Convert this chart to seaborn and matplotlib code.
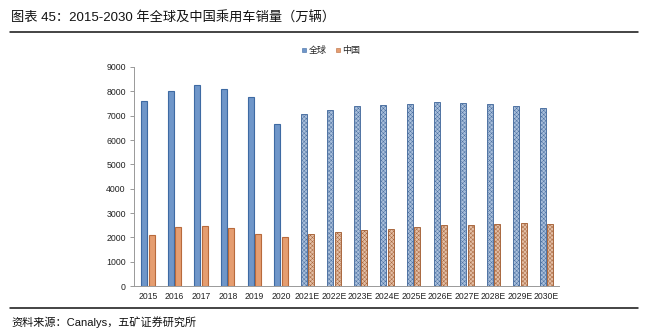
import matplotlib
matplotlib.use("Agg")
import matplotlib.pyplot as plt
import seaborn as sns
import pandas as pd
from matplotlib.lines import Line2D

years = ["2015", "2016", "2017", "2018", "2019", "2020", "2021E", "2022E", "2023E",
         "2024E", "2025E", "2026E", "2027E", "2028E", "2029E", "2030E"]
global_sales = [7600, 8000, 8250, 8100, 7750, 6650, 7050, 7250, 7400,
                7450, 7500, 7550, 7530, 7470, 7400, 7300]
china_sales = [2100, 2440, 2470, 2370, 2130, 2000, 2130, 2230, 2300,
               2360, 2440, 2490, 2530, 2560, 2580, 2540]
series_names = ["全球", "中国"]
yticks = list(range(0, 9001, 1000))

sns.set_theme(style="white")
plt.rcParams['font.family'] = ['Liberation Sans', 'Noto Sans CJK SC', 'DejaVu Sans']
plt.rcParams['hatch.linewidth'] = 0.35

df = pd.DataFrame({
    "year": years * 2,
    "value": global_sales + china_sales,
    "series": [series_names[0]] * len(years) + [series_names[1]] * len(years),
})

fig = plt.figure(figsize=(6.48, 3.35), dpi=100)
ax = fig.add_axes([0.207, 0.146, 0.655, 0.654])

solid_face = {"全球": "#6f96c9", "中国": "#e59d70"}
solid_edge = {"全球": "#3e6aa3", "中国": "#b86a3c"}
hatch_face = {"全球": "#a9bfdb", "中国": "#e4bfa6"}
hatch_edge = {"全球": "#4f73a3", "中国": "#a9683f"}

sns.barplot(data=df, x="year", y="value", hue="series", order=years,
            hue_order=series_names, width=0.56, gap=0.2, ax=ax,
            palette=[solid_face["全球"], solid_face["中国"]], legend=False,
            saturation=1)

n = len(years)
for i, p in enumerate(ax.patches[:2 * n]):
    s = series_names[i // n]
    idx = i % n
    if idx >= 6:
        p.set_facecolor(hatch_face[s])
        p.set_edgecolor(hatch_edge[s])
        p.set_hatch("xxxxxxxx")
        p.set_linewidth(0.7)
    else:
        p.set_facecolor(solid_face[s])
        p.set_edgecolor(solid_edge[s])
        p.set_linewidth(0.8)

ax.set_ylim(0, 9000)
ax.set_xlim(-0.52, 15.45)
ax.set_yticks(yticks)
ax.set_yticklabels([str(t) for t in yticks], fontsize=6.3, color="#222222")
ax.tick_params(axis="x", labelsize=6.2, colors="#222222", length=0, pad=4)
ax.tick_params(axis="y", length=3, width=0.6, color="#888888", left=True, pad=3)
ax.set_xlabel("")
ax.set_ylabel("")
for side in ["top", "right"]:
    ax.spines[side].set_visible(False)
for side in ["left", "bottom"]:
    ax.spines[side].set_color("#999999")
    ax.spines[side].set_linewidth(0.7)

handles = [Line2D([], [], marker="s", linestyle="", markersize=3.5,
                  markerfacecolor=solid_face[s], markeredgecolor=solid_edge[s],
                  markeredgewidth=0.4) for s in series_names]
fig.legend(handles, series_names, loc="center", bbox_to_anchor=(0.51, 0.85),
           ncol=2, frameon=False, fontsize=6.5, handletextpad=0.1,
           columnspacing=0.8, handlelength=0.8)

fig.text(0.017, 0.945, "图表 45：2015-2030 年全球及中国乘用车销量（万辆）",
         fontsize=9.5, ha="left", va="center", color="#111111")
fig.add_artist(Line2D([0.015, 0.985], [0.905, 0.905], color="#111111", lw=1.1,
                      transform=fig.transFigure))
fig.add_artist(Line2D([0.015, 0.985], [0.082, 0.082], color="#111111", lw=1.1,
                      transform=fig.transFigure))
fig.text(0.017, 0.037, "资料来源：Canalys，五矿证券研究所",
         fontsize=8, ha="left", va="center", color="#111111")

fig.savefig("out.png", dpi=100)
